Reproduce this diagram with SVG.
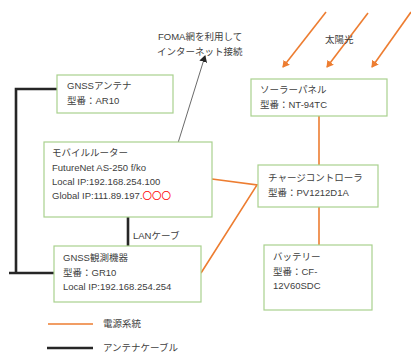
<svg xmlns="http://www.w3.org/2000/svg" width="411" height="354" viewBox="0 0 411 354">
<style>
.box{fill:#fff;stroke:#a9d18e;stroke-width:1.2}
.t{font-family:"Liberation Sans","Noto Sans CJK JP",sans-serif;font-size:9.5px;fill:#404040}
.pw{stroke:#ed7d31;stroke-width:1.6;fill:none}
.ant{stroke:#262626;stroke-width:2.6;fill:none}
</style>
<defs>
<marker id="ao" markerWidth="8" markerHeight="8" refX="6" refY="4" orient="auto" markerUnits="userSpaceOnUse"><path d="M0,0L7,4L0,8z" fill="#ed7d31"/></marker>
<marker id="ak" markerWidth="8" markerHeight="8" refX="6" refY="4" orient="auto" markerUnits="userSpaceOnUse"><path d="M0,0L7,4L0,8z" fill="#262626"/></marker>
</defs>
<rect width="411" height="354" fill="#fff"/>
<g id="connectors">
<path class="ant" d="M57,89H16V273M9,273H54"/>
<path class="ant" d="M128,217V246" stroke-width="2.4"/>
<path d="M178,143L205,56" stroke="#595959" stroke-width="0.9" fill="none" marker-end="url(#ak)"/>
<path class="pw" d="M319,116V165M319,207V245M212,179L257,185L201,273"/>
<path class="pw" d="M326,12L283,67" marker-end="url(#ao)"/>
<path class="pw" d="M368,13L327,67" marker-end="url(#ao)"/>
<path class="pw" d="M411,12L372,67" marker-end="url(#ao)"/>
</g>
<g id="labels">
<text class="t" x="158" y="40" font-size="9">FOMA網を利用して</text>
<text class="t" x="157" y="55" font-size="9">インターネット接続</text>
<text class="t" x="325" y="43" font-size="9">太陽光</text>
<text class="t" x="133" y="239" font-size="9">LANケーブ</text>
</g>
<g id="gnss-antenna">
<rect class="box" x="57" y="75" width="116" height="38"/>
<text class="t" x="67" y="89">GNSSアンテナ</text>
<text class="t" x="67" y="104">型番：AR10</text>
</g>
<g id="solar-panel">
<rect class="box" x="251" y="79" width="136" height="37"/>
<text class="t" x="260" y="93">ソーラーパネル</text>
<text class="t" x="260" y="108">型番：NT-94TC</text>
</g>
<g id="router">
<rect class="box" x="44" y="142" width="168" height="75"/>
<text class="t" x="52" y="156">モバイルルーター</text>
<text class="t" x="52" y="171">FutureNet  AS-250 f/ko</text>
<text class="t" x="52" y="185">Local IP:192.168.254.100</text>
<text class="t" x="52" y="199">Global IP:111.89.197.<tspan fill="#ff0000">〇〇〇</tspan></text>
</g>
<g id="charge-controller">
<rect class="box" x="258" y="165" width="120" height="42"/>
<text class="t" x="268" y="181">チャージコントローラ</text>
<text class="t" x="268" y="196">型番：PV1212D1A</text>
</g>
<g id="gnss-receiver">
<rect class="box" x="54" y="246" width="147" height="56"/>
<text class="t" x="63" y="261">GNSS観測機器</text>
<text class="t" x="63" y="276">型番：GR10</text>
<text class="t" x="63" y="290">Local IP:192.168.254.254</text>
</g>
<g id="battery">
<rect class="box" x="264" y="245" width="108" height="65"/>
<text class="t" x="273" y="260">バッテリー</text>
<text class="t" x="273" y="275">型番：CF-</text>
<text class="t" x="273" y="289">12V60SDC</text>
</g>
<g id="legend">
<path class="pw" d="M48,324H93" stroke-width="1.8"/>
<text class="t" x="103" y="327">電源系統</text>
<path class="ant" d="M47,348H93"/>
<text class="t" x="103" y="351">アンテナケーブル</text>
</g>
</svg>
